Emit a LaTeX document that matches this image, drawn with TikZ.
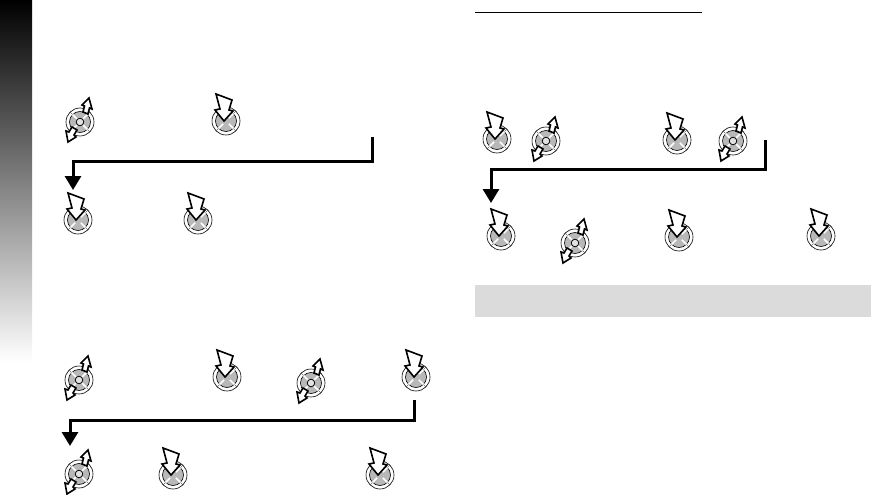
\documentclass[tikz,border=0pt]{standalone}
\usetikzlibrary{arrows.meta}
\usepackage{xcolor}
\definecolor{padgrey}{gray}{.72}
\definecolor{bargrey}{gray}{.86}
\tikzset{
  flowline/.style={black, line width=3pt, -{Triangle[length=14pt,width=16pt]}},
  padarrow/.style={black, line width=1.6pt, fill=white, line join=miter},
  pics/padbase/.style={code={
    \draw[black, line width=.6pt, fill=white] (0,0) circle (14);
    \draw[black, line width=.6pt, fill=padgrey] (0,0) circle (10.5);
    \foreach \a in {45,135,225,315} {
      \draw[white, line width=1.6pt] (\a:4)--(\a:11);
      \draw[black, line width=.3pt] (\a:10.5)--(\a:14);
    }
  }},
  pics/presspad/.style={code={
    \pic {padbase};
    \draw[padarrow]
      (-10,-27)--(6,-21)--(3,-11)--(7,-10)--(-2,0)--(-11,-11)--(-6,-12)--cycle;
  }},
  pics/rockpad/.style={code={
    \begin{scope}[rotate=55,yscale=.9]
    \pic {padbase};
    \end{scope}
    \draw[black, line width=.8pt, fill=padgrey!40] (0,0) circle (3.8);
    \draw[padarrow]
      (9,-24)--(12,-13)--(9.5,-14)--(8,-8)--(3,-10)--(4.5,-16)--(2,-17)--cycle;
    \draw[padarrow]
      (-12,20)--(-14,9)--(-11,10)--(-8,5)--(-3,8)--(-6,13)--(-4,15)--cycle;
  }}
}
\begin{document}
\begin{tikzpicture}[x=1pt,y=-1pt]
\useasboundingbox (0,0) rectangle (871,495);
% side strip and grey bar
\shade[top color=black, bottom color=white] (0,0) rectangle (32,362);
\fill[bargrey] (475,285) rectangle (871,317);
\draw[black, line width=1pt] (475,12.5)--(702,12.5);
% upper left
\pic at (80,122) {rockpad};
\pic at (226,121) {presspad};
\pic at (78,220) {presspad};
\pic at (198,220) {presspad};
\coordinate (ulstart) at (372,137);
\coordinate (ulbend) at (372,161);
\coordinate (ulturn) at (73,161);
\coordinate (ulend) at (73,190);
\draw[flowline] (ulstart)--(ulbend)--(ulturn)--(ulend);
% lower left
\foreach \x/\y in {79/380,311/383,79/474} {
  \pic at (\x,\y) {rockpad};
}
\foreach \x/\y in {227/377,416/377,173/475,380/475} {
  \pic at (\x,\y) {presspad};
}
\coordinate (llstart) at (414,400);
\coordinate (llbend) at (414,420);
\coordinate (llturn) at (70,420);
\coordinate (llend) at (70,446);
\draw[flowline] (llstart)--(llbend)--(llturn)--(llend);
% right
\foreach \x/\y in {546/141,733/141,575/243} {
  \pic at (\x,\y) {rockpad};
}
\foreach \x/\y in {497/139,677/140,501/236,679/237,821/236} {
  \pic at (\x,\y) {presspad};
}
\coordinate (rtstart) at (765,140);
\coordinate (rtbend) at (765,169);
\coordinate (rtturn) at (491,169);
\coordinate (rtend) at (491,203);
\draw[flowline] (rtstart)--(rtbend)--(rtturn)--(rtend);
\end{tikzpicture}
\end{document}
